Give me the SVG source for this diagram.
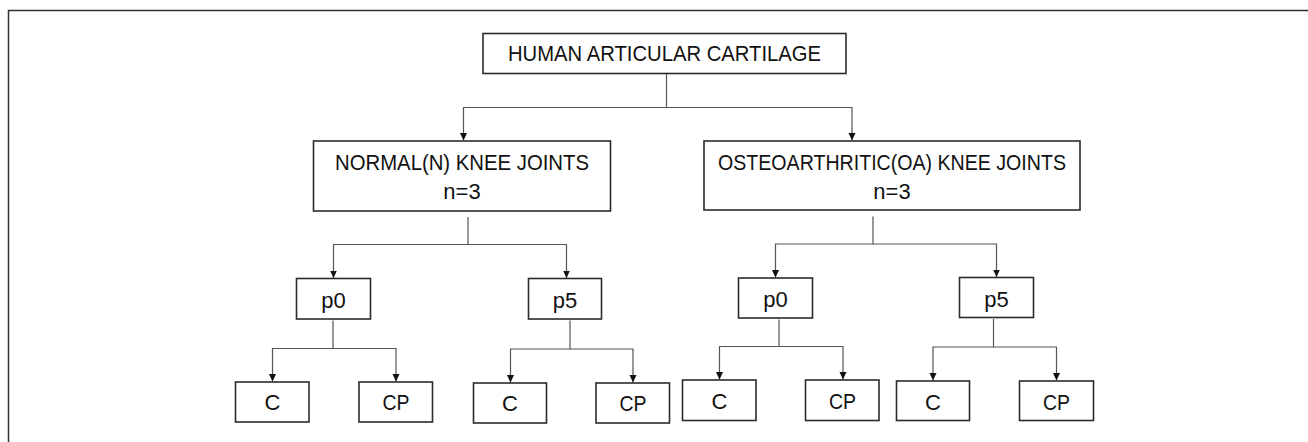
<svg xmlns="http://www.w3.org/2000/svg" width="1308" height="442" viewBox="0 0 1308 442">
<defs>
<style>
.box{fill:#fff;stroke:#2b2b2b;stroke-width:1.6}
.lbl{font-family:"Liberation Sans",Arial,sans-serif;font-size:22px;fill:#111;text-anchor:middle}
.con{fill:none;stroke:#555;stroke-width:1.2}
.arr{marker-end:url(#ah)}
</style>
<marker id="ah" markerUnits="userSpaceOnUse" markerWidth="8" markerHeight="8" refX="7.5" refY="3.5" orient="auto">
<path d="M0,0 L7.5,3.5 L0,7 z" fill="#111"/>
</marker>
</defs>
<rect width="1308" height="442" fill="#fff"/>
<path d="M8.5,442 V10.5 H1308" fill="none" stroke="#333" stroke-width="1.5"/>
<g id="connectors">
<path class="con arr" d="M666.5,74 V107.5 H463.5 V140.5"/>
<path class="con arr" d="M666.5,107.5 H852 V140.5"/>
<path class="con arr" d="M468,217 V244.5 H333.5 V278"/>
<path class="con arr" d="M468,244.5 H566.5 V278"/>
<path class="con arr" d="M873,216.5 V244 H775.5 V277.5"/>
<path class="con arr" d="M873,244 H996.5 V277"/>
<path class="con arr" d="M333,320.5 V348.5 H272.5 V381.5"/>
<path class="con arr" d="M333,348.5 H396 V381.5"/>
<path class="con arr" d="M570,320.5 V349 H510.5 V382.5"/>
<path class="con arr" d="M570,349 H633 V382.5"/>
<path class="con arr" d="M779,319.5 V346.5 H719.5 V379.5"/>
<path class="con arr" d="M779,346.5 H843 V379.5"/>
<path class="con arr" d="M993.5,319 V347 H933 V380.5"/>
<path class="con arr" d="M993.5,347 H1056.5 V380.5"/>
</g>
<g id="top"><rect class="box" x="483" y="33.5" width="363" height="40"/><text class="lbl" x="664.5" y="61" textLength="313" lengthAdjust="spacingAndGlyphs">HUMAN ARTICULAR CARTILAGE</text></g>
<g id="normal"><rect class="box" x="313.5" y="141" width="297" height="70"/><text class="lbl" x="462" y="170" textLength="254" lengthAdjust="spacingAndGlyphs">NORMAL(N) KNEE JOINTS</text><text class="lbl" x="462" y="199">n=3</text></g>
<g id="oa"><rect class="box" x="704" y="141" width="376" height="69"/><text class="lbl" x="892" y="169.5" textLength="348" lengthAdjust="spacingAndGlyphs">OSTEOARTHRITIC(OA) KNEE JOINTS</text><text class="lbl" x="892" y="198.5">n=3</text></g>
<g id="n-p0"><rect class="box" x="296.5" y="278.5" width="74" height="40.5"/><text class="lbl" x="333.5" y="307.5">p0</text></g>
<g id="n-p5"><rect class="box" x="528.5" y="278.5" width="73" height="40.5"/><text class="lbl" x="565" y="307.5">p5</text></g>
<g id="n-p0-c"><rect class="box" x="235.5" y="382" width="73.5" height="40"/><text class="lbl" x="272.5" y="410">C</text></g>
<g id="n-p0-cp"><rect class="box" x="359" y="382" width="73.5" height="40"/><text class="lbl" x="396" y="410" textLength="27" lengthAdjust="spacingAndGlyphs">CP</text></g>
<g id="n-p5-c"><rect class="box" x="473.5" y="383" width="73" height="40"/><text class="lbl" x="510" y="411">C</text></g>
<g id="n-p5-cp"><rect class="box" x="596" y="383" width="73.5" height="40"/><text class="lbl" x="633" y="411" textLength="27" lengthAdjust="spacingAndGlyphs">CP</text></g>
<g id="oa-p0"><rect class="box" x="738.5" y="278" width="74" height="40"/><text class="lbl" x="775.5" y="307">p0</text></g>
<g id="oa-p5"><rect class="box" x="959.5" y="277.5" width="74" height="40"/><text class="lbl" x="996.5" y="306.5">p5</text></g>
<g id="oa-p0-c"><rect class="box" x="682.5" y="380" width="73.5" height="40.5"/><text class="lbl" x="719.5" y="409">C</text></g>
<g id="oa-p0-cp"><rect class="box" x="805.5" y="380" width="73.5" height="40.5"/><text class="lbl" x="842.5" y="409" textLength="27" lengthAdjust="spacingAndGlyphs">CP</text></g>
<g id="oa-p5-c"><rect class="box" x="896.5" y="381" width="73" height="39.5"/><text class="lbl" x="933" y="409.5">C</text></g>
<g id="oa-p5-cp"><rect class="box" x="1019.5" y="381" width="74" height="39.5"/><text class="lbl" x="1056.5" y="409.5" textLength="27" lengthAdjust="spacingAndGlyphs">CP</text></g>
</svg>
